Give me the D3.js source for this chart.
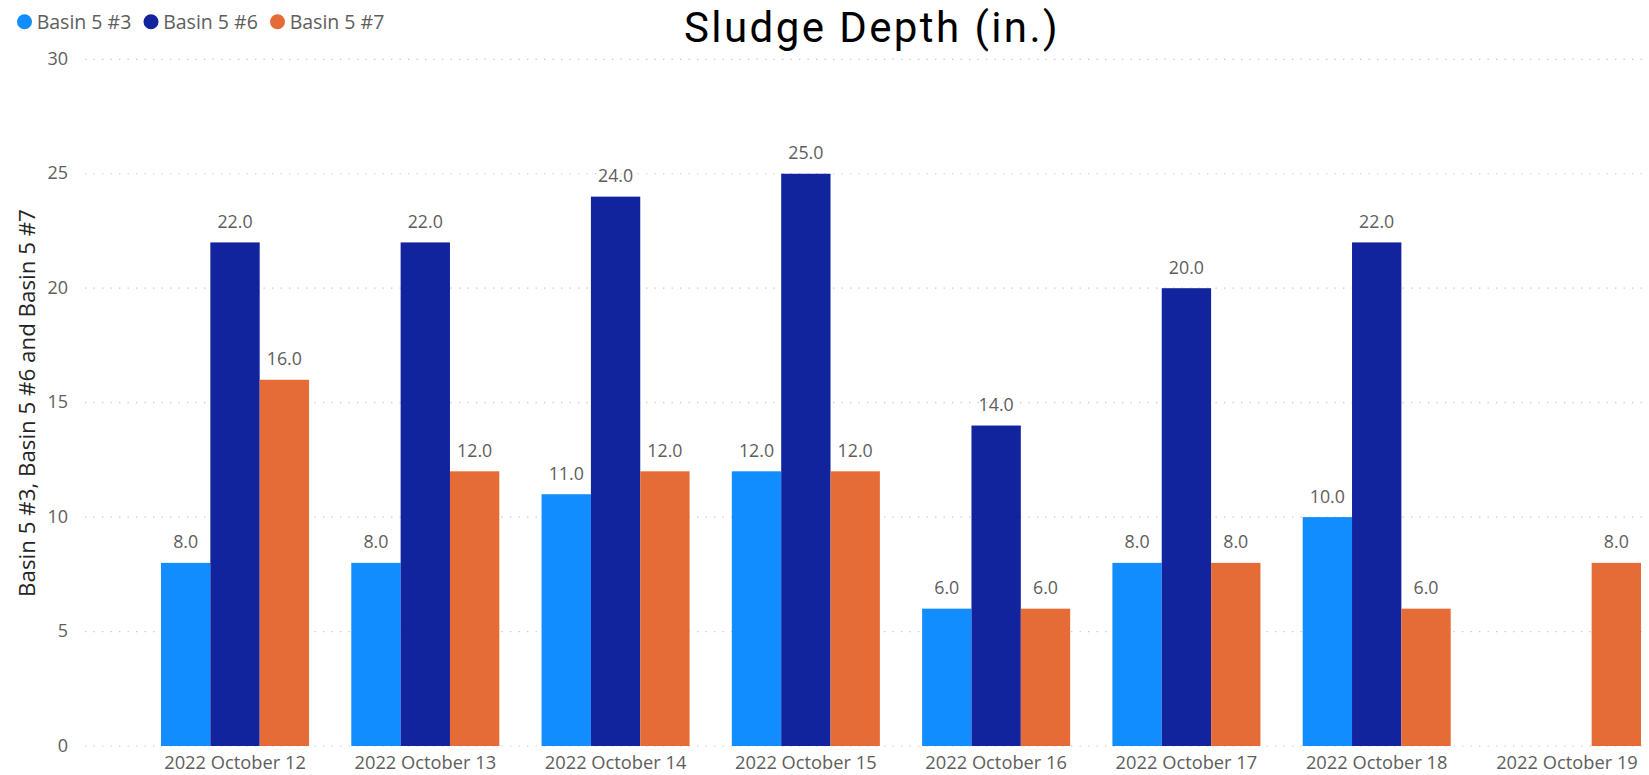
<!DOCTYPE html>
<html>
<head>
<meta charset="utf-8">
<script src="https://cdn.jsdelivr.net/npm/d3@7"></script>
<style>
  html, body { margin: 0; padding: 0; background: #fff; }
  svg { display: block; }
</style>
</head>
<body>
<svg id="chart" width="1649" height="775"></svg>
<script>
// ---- data ----
const categories = ["2022 October 12","2022 October 13","2022 October 14","2022 October 15","2022 October 16","2022 October 17","2022 October 18","2022 October 19"];
const seriesNames = ["Basin 5 #3","Basin 5 #6","Basin 5 #7"];
const basin3 = [8, 8, 11, 12, 6, 8, 10, null];
const basin6 = [22, 22, 24, 25, 14, 20, 22, null];
const basin7 = [16, 12, 12, 12, 6, 8, 6, 8];
const yTicks = [0, 5, 10, 15, 20, 25, 30];
const colors = ["#118DFF", "#12239E", "#E66C37"];
const titleText = "Sludge Depth (in.)";
const yTitle = "Basin 5 #3, Basin 5 #6 and Basin 5 #7";

const seriesValues = [basin3, basin6, basin7];
const rows = categories.map((c, i) => ({ cat: c, vals: seriesValues.map(s => s[i]) }));

const svg = d3.select("#chart");
const font = "'Open Sans', 'Noto Sans', sans-serif";
const gray = "#605E5C";

const x = d3.scaleBand().domain(categories).range([161, 1641]).paddingInner(0.222).paddingOuter(0);
const xs = d3.scaleBand().domain(seriesNames).range([0, x.bandwidth()]).padding(0);
const y = d3.scaleLinear().domain([0, 30]).range([746, 59.3]);

// gridlines
svg.append("g").selectAll("line").data(yTicks).join("line")
  .attr("x1", 85).attr("x2", 1649)
  .attr("y1", d => y(d)).attr("y2", d => y(d))
  .attr("stroke", "#C8C6C4").attr("stroke-width", 1.2)
  .attr("stroke-dasharray", "1.3,7.2");

// y axis (labels only)
const yAxis = d3.axisLeft(y).tickValues(yTicks).tickSize(0).tickPadding(0).tickFormat(d3.format("d"));
const yg = svg.append("g").attr("transform", "translate(68,0)").call(yAxis);
yg.select(".domain").remove();
yg.selectAll("text").attr("font-family", font).attr("font-size", 18).attr("fill", gray).attr("dy", "0.28em");

// x axis (labels only)
const xAxis = d3.axisBottom(x).tickSize(0).tickPadding(0);
const xg = svg.append("g").call(xAxis);
xg.select(".domain").remove();
xg.selectAll("text").attr("font-family", font).attr("font-size", 18.3).attr("fill", gray)
  .attr("y", 769).attr("dy", 0);

// bars
const groups = svg.append("g").selectAll("g").data(rows).join("g")
  .attr("transform", d => `translate(${x(d.cat)},0)`);
groups.selectAll("rect").data(d => d.vals.map((v, k) => ({ k, v })).filter(e => e.v != null)).join("rect")
  .attr("x", e => xs(seriesNames[e.k]))
  .attr("width", xs.bandwidth())
  .attr("y", e => y(e.v))
  .attr("height", e => y(0) - y(e.v))
  .attr("fill", e => colors[e.k]);

// data labels
groups.selectAll("text").data(d => d.vals.map((v, k) => ({ k, v })).filter(e => e.v != null)).join("text")
  .attr("x", e => xs(seriesNames[e.k]) + xs.bandwidth() / 2)
  .attr("y", e => y(e.v) - 14.5)
  .attr("text-anchor", "middle")
  .attr("font-family", font).attr("font-size", 17.8).attr("fill", gray)
  .text(e => d3.format(".1f")(e.v));

// y axis title
const yt = svg.append("text")
  .attr("transform", "translate(35,403) rotate(-90)")
  .attr("text-anchor", "middle")
  .attr("font-family", font).attr("font-size", 20).attr("fill", "#252423")
  .text(yTitle);
{
  const w = yt.node().getComputedTextLength();
  yt.attr("font-size", 20 * 388 / w);
}

// title
const tt = svg.append("text")
  .attr("x", 872).attr("y", 42)
  .attr("text-anchor", "middle")
  .attr("font-family", "Roboto, sans-serif").attr("font-size", 42).attr("fill", "#000")
  .text(titleText);
{
  const w = tt.node().getComputedTextLength();
  const n = titleText.length;
  tt.attr("letter-spacing", Math.max(0, (376 - w) / n));
}

// legend
const legendX = [24.5, 151, 277.5];
const lg = svg.append("g").selectAll("g").data(seriesNames).join("g")
  .attr("transform", (d, i) => `translate(${legendX[i]},21.7)`);
lg.append("circle").attr("r", 7.5).attr("fill", (d, i) => colors[i]);
lg.append("text").attr("x", 12.2).attr("y", 7.6)
  .attr("font-family", font).attr("font-size", 19.5).attr("fill", gray)
  .text(d => d);
</script>
</body>
</html>
